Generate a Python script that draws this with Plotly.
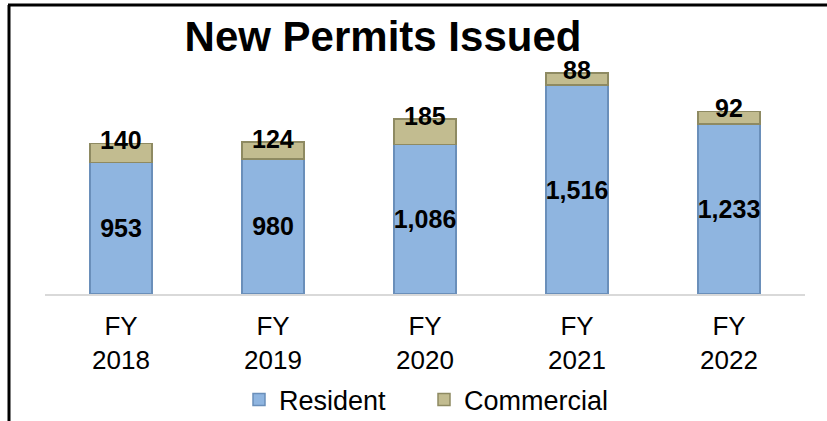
import plotly.graph_objects as go

years = ["FY<br>2018", "FY<br>2019", "FY<br>2020", "FY<br>2021", "FY<br>2022"]
resident = [953, 980, 1086, 1516, 1233]
commercial = [140, 124, 185, 88, 92]

W, H = 827, 421
L, R, T, B = 45, 22, 60, 127
FONT = "Arial, Liberation Sans, sans-serif"


def px_x(p):
    return (p - L) / (W - L - R)


def px_y(p):
    return (H - B - p) / (H - T - B)


fig = go.Figure()
fig.add_trace(go.Bar(
    x=years, y=resident, name="Resident",
    marker=dict(color="#8FB5E0", line=dict(color="#6A8FBA", width=1.5)),
    text=[f"{v:,}" for v in resident], textposition="inside",
    insidetextanchor="middle", textangle=0, constraintext="none",
    textfont=dict(family=FONT, size=25, color="black", weight="bold"),
))
fig.add_trace(go.Bar(
    x=years, y=commercial, name="Commercial",
    marker=dict(color="#C2BC90", line=dict(color="#8E8A62", width=1.5)),
))

totals = [r + c for r, c in zip(resident, commercial)]
for x, t, c in zip(years, totals, commercial):
    fig.add_annotation(x=x, y=t, text=f"<b>{c}</b>", showarrow=False,
                       yanchor="middle", yshift=3,
                       font=dict(family=FONT, size=25, color="black"))

# frame lines at top and left of the picture
fig.add_shape(type="line", xref="paper", yref="paper",
              x0=px_x(8), x1=px_x(W + 5), y0=px_y(5), y1=px_y(5),
              line=dict(color="black", width=3))
fig.add_shape(type="line", xref="paper", yref="paper",
              x0=px_x(9), x1=px_x(9), y0=px_y(5), y1=px_y(H + 5),
              line=dict(color="black", width=3))

fig.update_layout(
    width=W, height=H,
    margin=dict(l=L, r=R, t=T, b=B, autoexpand=False),
    barmode="stack", bargap=0.59,
    paper_bgcolor="white", plot_bgcolor="white",
    font=dict(family=FONT, color="black"),
    title=dict(text="<b>New Permits Issued</b>", xref="paper", x=px_x(383),
               xanchor="center", yref="container", y=1 - 36 / H,
               yanchor="middle", font=dict(size=42, color="black")),
    xaxis=dict(showline=True, linecolor="#D9D9D9", linewidth=2,
               ticks="", ticklabelstandoff=8, automargin=False,
               tickfont=dict(size=26, color="black")),
    yaxis=dict(visible=False, range=[0, 1698]),
    legend=dict(orientation="h", x=px_x(424), xanchor="center", y=px_y(400),
                yanchor="middle", font=dict(size=27), itemwidth=30,
                entrywidth=140, traceorder="normal",
                bgcolor="rgba(0,0,0,0)"),
    showlegend=True,
)

fig.write_html("out.html", config={"displayModeBar": False},
               post_script="document.body.style.margin='0';")
